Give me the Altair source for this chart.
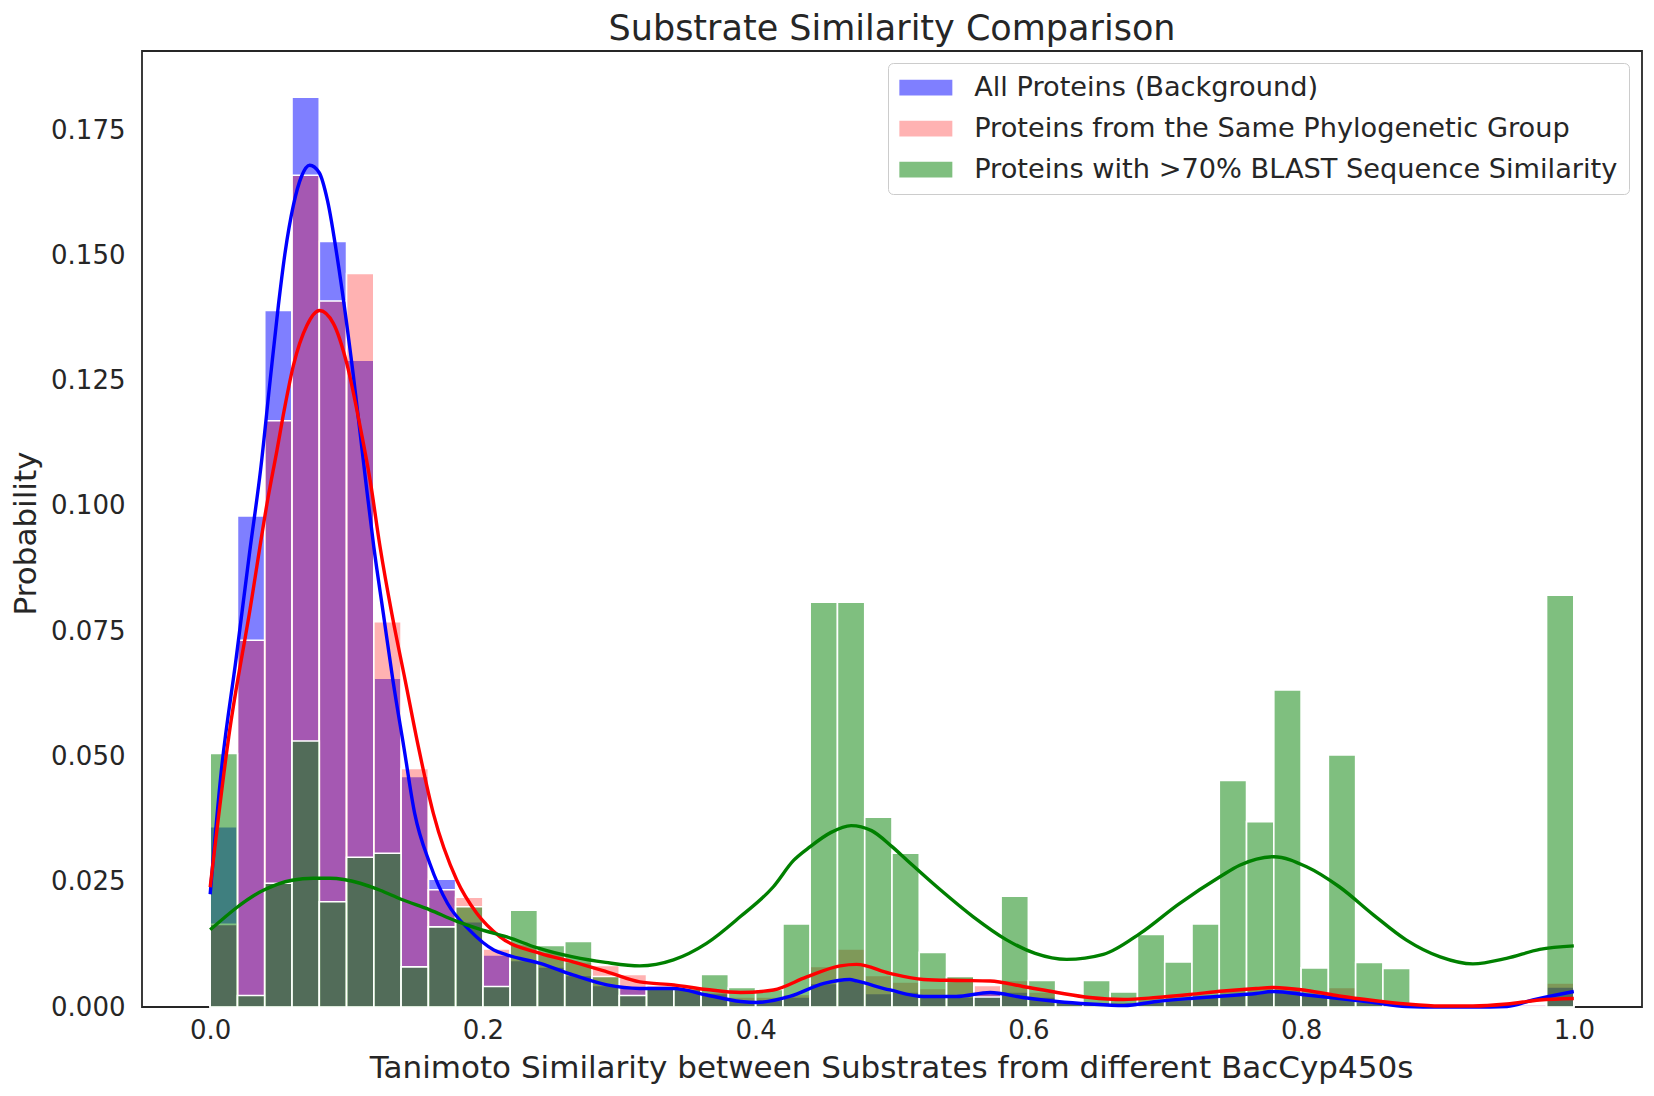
import altair as alt
import pandas as pd

# ---------------- data ----------------
names = [
    "All Proteins (Background)",
    "Proteins from the Same Phylogenetic Group",
    "Proteins with >70% BLAST Sequence Similarity",
]

# 50 bins of width 0.02 between 0 and 1
bin_width = 0.02
bin_starts = [round(i * bin_width, 2) for i in range(50)]

all_proteins = [
    0.0360, 0.0980, 0.1390, 0.1816, 0.1528, 0.1291, 0.0656, 0.0460, 0.0255, 0.0170,
    0.0104, 0.0093, 0.0080, 0.0063, 0.0043, 0.0040, 0.0037, 0.0035, 0.0027, 0.0013,
    0.0015, 0.0020, 0.0047, 0.0053, 0.0027, 0.0030, 0.0020, 0.0020, 0.0030, 0.0030,
    0.0020, 0.0010, 0.0008, 0.0006, 0.0010, 0.0015, 0.0020, 0.0025, 0.0030, 0.0033,
    0.0025, 0.0020, 0.0010, 0.0005, 0.0002, 0.0001, 0.0000, 0.0001, 0.0005, 0.0040,
]
same_group = [
    0.0165, 0.0732, 0.1170, 0.1660, 0.1409, 0.1464, 0.0769, 0.0476, 0.0234, 0.0219,
    0.0116, 0.0125, 0.0110, 0.0090, 0.0083, 0.0065, 0.0043, 0.0037, 0.0030, 0.0020,
    0.0020, 0.0025, 0.0081, 0.0116, 0.0063, 0.0050, 0.0037, 0.0060, 0.0043, 0.0053,
    0.0030, 0.0012, 0.0010, 0.0010, 0.0015, 0.0020, 0.0025, 0.0035, 0.0040, 0.0040,
    0.0030, 0.0039, 0.0015, 0.0008, 0.0003, 0.0001, 0.0000, 0.0001, 0.0004, 0.0048,
]
blast_similar = [
    0.0506, 0.0023, 0.0247, 0.0531, 0.0210, 0.0299, 0.0307, 0.0080, 0.0160, 0.0200,
    0.0041, 0.0193, 0.0123, 0.0131, 0.0061, 0.0023, 0.0037, 0.0037, 0.0065, 0.0039,
    0.0035, 0.0166, 0.0808, 0.0808, 0.0379, 0.0307, 0.0109, 0.0061, 0.0020, 0.0221,
    0.0053, 0.0010, 0.0053, 0.0030, 0.0145, 0.0090, 0.0166, 0.0452, 0.0370, 0.0633,
    0.0078, 0.0503, 0.0089, 0.0077, 0.0000, 0.0000, 0.0000, 0.0000, 0.0000, 0.0822,
]

# KDE curves
kde_all_x = [0.0, 0.008, 0.019, 0.029, 0.037, 0.044, 0.05, 0.055, 0.061, 0.067,
             0.073, 0.08, 0.086, 0.095, 0.105, 0.114, 0.12, 0.127, 0.134, 0.142,
             0.15, 0.161, 0.174, 0.19, 0.208, 0.2175, 0.242, 0.266, 0.291, 0.315,
             0.34, 0.364, 0.389, 0.401, 0.425, 0.45, 0.469, 0.474, 0.4985, 0.523,
             0.547, 0.572, 0.596, 0.621, 0.645, 0.67, 0.694, 0.7185, 0.743, 0.767,
             0.78, 0.804, 0.828, 0.853, 0.877, 0.902, 0.926, 0.951, 0.97, 1.0]
kde_all_y = [0.0225, 0.0467, 0.0695, 0.0909, 0.1073, 0.1251, 0.140, 0.1507, 0.160, 0.1658,
             0.168, 0.1665, 0.161, 0.1463, 0.126, 0.1051, 0.0918, 0.0785, 0.0652, 0.0519,
             0.0386, 0.0287, 0.0207, 0.0154, 0.0114, 0.0104, 0.0087, 0.0064, 0.0044, 0.0037,
             0.0037, 0.0024, 0.0011, 0.0009, 0.0021, 0.0047, 0.0055, 0.0052, 0.0034, 0.0021,
             0.0021, 0.0029, 0.0019, 0.0011, 0.0006, 0.0003, 0.0011, 0.0017, 0.0022, 0.0027,
             0.0031, 0.0024, 0.0017, 0.0009, 0.0001, 0.0, 0.0, 0.0001, 0.0014, 0.0031]

kde_group_x = [0.0, 0.0136, 0.0293, 0.0424, 0.0489, 0.0542, 0.061, 0.0709, 0.0801, 0.0904,
               0.1002, 0.11, 0.1173, 0.1246, 0.1332, 0.143, 0.1527, 0.1637, 0.1809, 0.1955,
               0.2126, 0.242, 0.266, 0.291, 0.315, 0.34, 0.364, 0.389, 0.413, 0.4375,
               0.462, 0.474, 0.4985, 0.523, 0.547, 0.572, 0.596, 0.621, 0.645, 0.67,
               0.694, 0.7185, 0.743, 0.767, 0.78, 0.804, 0.828, 0.853, 0.877, 0.902,
               0.926, 0.951, 0.975, 1.0]
kde_group_y = [0.0239, 0.0539, 0.0795, 0.1016, 0.111, 0.119, 0.128, 0.136, 0.139, 0.1364,
               0.1284, 0.1158, 0.1051, 0.0918, 0.0785, 0.0652, 0.0519, 0.0386, 0.0253, 0.0187,
               0.014, 0.0107, 0.009, 0.007, 0.005, 0.0044, 0.0035, 0.0029, 0.0034, 0.006,
               0.0082, 0.0085, 0.0067, 0.0055, 0.0053, 0.0052, 0.0041, 0.0029, 0.0019, 0.0015,
               0.0019, 0.0025, 0.0032, 0.0037, 0.0039, 0.0033, 0.0022, 0.0013, 0.0006, 0.0002,
               0.0002, 0.0006, 0.0014, 0.0017]

kde_blast_x = [0.0, 0.039, 0.06, 0.0757, 0.088, 0.11, 0.1246, 0.14, 0.161, 0.18,
               0.198, 0.2175, 0.24, 0.266, 0.29, 0.315, 0.3397, 0.364, 0.3886, 0.413,
               0.428, 0.44, 0.455, 0.47, 0.485, 0.5, 0.511, 0.535, 0.5596, 0.584,
               0.605, 0.628, 0.655, 0.682, 0.71, 0.7405, 0.755, 0.78, 0.804, 0.828,
               0.853, 0.877, 0.902, 0.926, 0.9506, 0.975, 1.0]
kde_blast_y = [0.0154, 0.0233, 0.0253, 0.0257, 0.0257, 0.0247, 0.0233, 0.0215, 0.0194, 0.0172,
               0.0155, 0.014, 0.0118, 0.010, 0.0089, 0.0082, 0.0094, 0.0127, 0.018, 0.024,
               0.0293, 0.032, 0.0348, 0.0362, 0.0352, 0.032, 0.0293, 0.0235, 0.018, 0.0134,
               0.0107, 0.0095, 0.0105, 0.0147, 0.0205, 0.026, 0.0283, 0.030, 0.028, 0.024,
               0.0184, 0.0134, 0.010, 0.0086, 0.0097, 0.0115, 0.0122]

x_ticks = [0.0, 0.2, 0.4, 0.6, 0.8, 1.0]
y_ticks = [0.0, 0.025, 0.05, 0.075, 0.1, 0.125, 0.15, 0.175]

# ---------------- build tables ----------------
def hist_frame(name, values):
    return pd.DataFrame({
        "series": name,
        "x0": bin_starts,
        "x1": [round(b + bin_width, 2) for b in bin_starts],
        "p": values,
    })

hist_all = hist_frame(names[0], all_proteins)
hist_group = hist_frame(names[1], same_group)
hist_blast = hist_frame(names[2], blast_similar)

kde_all = pd.DataFrame({"x": kde_all_x, "v": kde_all_y})
kde_group = pd.DataFrame({"x": kde_group_x, "v": kde_group_y})
kde_blast = pd.DataFrame({"x": kde_blast_x, "v": kde_blast_y})

FONT = "DejaVu Sans"
TXT = "#262626"

xs = alt.Scale(domain=[-0.05, 1.05], nice=False, zero=False)
ys = alt.Scale(domain=[0, 0.1908], nice=False)

x_axis = alt.Axis(
    values=x_ticks, format=".1f", grid=False, ticks=False, tickSize=0, domain=False,
    labelFont=FONT, labelFontSize=26, labelColor=TXT, labelPadding=10,
    labelOverlap=False,
    title="Tanimoto Similarity between Substrates from different BacCyp450s",
    titleFont=FONT, titleFontSize=31, titleFontWeight="normal", titleColor=TXT,
    titleX=749, titleY=61, titleAlign="center", titleBaseline="middle",
)
y_axis = alt.Axis(
    values=y_ticks, format=".3f", grid=False, ticks=False, tickSize=0, domain=False,
    labelFont=FONT, labelFontSize=26, labelColor=TXT, labelPadding=17,
    labelOverlap=False,
    title="Probability",
    titleFont=FONT, titleFontSize=31, titleFontWeight="normal", titleColor=TXT,
    titleX=-116, titleY=482, titleAngle=270, titleAlign="center", titleBaseline="middle",
)

# matplotlib-style translucent fills: blue a=0.5, red a=0.3, green a=0.5
color_scale = alt.Scale(
    domain=names,
    range=["rgba(0,0,255,0.5)", "rgba(255,0,0,0.3)", "rgba(0,128,0,0.5)"],
)

legend = alt.Legend(
    title=None, orient="none", legendX=746, legendY=12,
    symbolType="M-1,-0.6H3V0.6H-1Z", symbolSize=702, symbolStrokeWidth=0,
    symbolOpacity=1,
    labelFont=FONT, labelFontSize=27.2, labelColor=TXT, labelOffset=48,
    labelLimit=1000, rowPadding=13, padding=11,
    fillColor="rgba(255,255,255,0.8)", strokeColor="#cccccc", cornerRadius=5,
)


def bars(df):
    return alt.Chart(df).mark_bar(stroke="white", strokeWidth=1.6).encode(
        x=alt.X("x0:Q", scale=xs, axis=x_axis),
        x2="x1:Q",
        y=alt.Y("p:Q", scale=ys, axis=y_axis, stack=None),
        y2=alt.datum(0),
        color=alt.Color("series:N", scale=color_scale, legend=legend),
    )


def kde_line(df, col):
    return alt.Chart(df).mark_line(color=col, strokeWidth=3.4, interpolate="monotone").encode(
        x=alt.X("x:Q", scale=xs, axis=x_axis),
        y=alt.Y("v:Q", scale=ys, axis=y_axis),
    )


chart = alt.layer(
    bars(hist_all), bars(hist_group), bars(hist_blast),
    kde_line(kde_all, "#0000ff"),
    kde_line(kde_group, "#ff0000"),
    kde_line(kde_blast, "#008000"),
).properties(
    width=1500,
    height=956,
    title=alt.Title(
        "Substrate Similarity Comparison", font=FONT, fontSize=35, fontWeight="normal",
        color=TXT, anchor="middle", baseline="bottom", offset=5, dy=36,
    ),
    padding={"left": 134, "top": 43, "right": 2, "bottom": 80},
    autosize=alt.AutoSizeParams(type="none"),
).configure_view(stroke=TXT, strokeWidth=1.8)

chart.save("out.html", embed_options={"renderer": "svg", "actions": False})
